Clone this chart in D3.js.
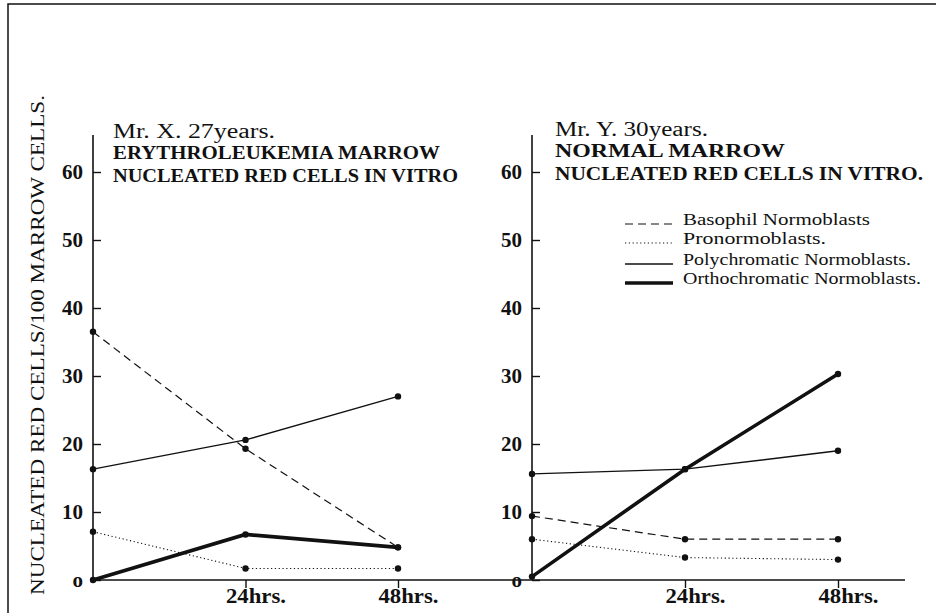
<!DOCTYPE html>
<html>
<head>
<meta charset="utf-8">
<script src="https://cdn.jsdelivr.net/npm/d3@7"></script>
<style>
  body { margin: 0; background: #fff; }
  svg { display: block; }
  text { font-family: "Liberation Serif", "DejaVu Serif", serif; fill: #111; }
</style>
</head>
<body>
<figure id="chart" style="margin:0"></figure>
<script>
const hours = [0, 24, 48];
const yTicks = [0, 10, 20, 30, 40, 50, 60];
const seriesNames = ["Basophil Normoblasts", "Pronormoblasts.", "Polychromatic Normoblasts.", "Orthochromatic Normoblasts."];

// Mr. X - erythroleukemia marrow
const basophilX = [36.5, 19.3, 4.8];
const pronormoX = [7.1, 1.7, 1.7];
const polyX = [16.3, 20.6, 27.0];
const orthoX = [0, 6.7, 4.8];

// Mr. Y - normal marrow
const basophilY = [9.4, 6.0, 6.0];
const pronormoY = [6.0, 3.3, 3.0];
const polyY = [15.6, 16.3, 19.0];
const orthoY = [0.5, 16.3, 30.3];

const titlesX = ["Mr. X.  27years.", "ERYTHROLEUKEMIA MARROW", "NUCLEATED RED CELLS IN VITRO"];
const titlesY = ["Mr. Y.  30years.", "NORMAL MARROW", "NUCLEATED RED CELLS IN VITRO."];
const yLabel = "NUCLEATED RED CELLS/100 MARROW CELLS.";

const width = 936, height = 613;
const lineStyles = [
  { w: 1.2, dash: "8,5" },
  { w: 1.1, dash: "1.2,2.6" },
  { w: 1.4, dash: null },
  { w: 3.6, dash: null }
];

const svg = d3.select("figure#chart")
  .append("svg")
  .attr("width", width)
  .attr("height", height);

// frame (only top + left edges visible in the scan)
svg.append("path")
  .attr("d", "M8,613 L8,4 L936,4")
  .attr("fill", "none").attr("stroke", "#111").attr("stroke-width", 1.5);

const y = d3.scaleLinear().domain([0, 60]).range([580, 172]);

// continuous baseline across both panels
svg.append("line")
  .attr("x1", 93).attr("x2", 905)
  .attr("y1", y(0)).attr("y2", y(0))
  .attr("stroke", "#111").attr("stroke-width", 1.6);

function drawPanel(x0, x48, series, titles, titleWidths, titleY) {
  const x = d3.scaleLinear().domain([0, 48]).range([x0, x48]);

  // y axis
  svg.append("line")
    .attr("x1", x0).attr("x2", x0)
    .attr("y1", y(0)).attr("y2", 135)
    .attr("stroke", "#111").attr("stroke-width", 1.6);

  const ya = svg.append("g")
    .attr("transform", "translate(" + x0 + ",0)")
    .call(d3.axisLeft(y).tickValues(yTicks).tickSize(-8).tickPadding(10));
  ya.select(".domain").remove();
  ya.selectAll("line").attr("stroke", "#111").attr("stroke-width", 1.4);
  ya.selectAll("text")
    .attr("font-size", 21).attr("font-weight", "bold")
    .attr("font-family", "'Liberation Serif', serif").attr("fill", "#111")
    .text(d => d === 0 ? "o" : d);

  // x axis ticks + labels
  const xa = svg.append("g")
    .attr("transform", "translate(0," + y(0) + ")")
    .call(d3.axisBottom(x).tickValues(hours.slice(1)).tickSize(8).tickFormat(d => d + "hrs."));
  xa.select(".domain").remove();
  xa.selectAll("line").attr("stroke", "#111").attr("stroke-width", 1.4);
  xa.selectAll("text")
    .attr("text-anchor", "start")
    .attr("x", -20).attr("y", 23).attr("dy", 0)
    .attr("font-size", 21).attr("font-weight", "bold")
    .attr("font-family", "'Liberation Serif', serif").attr("fill", "#111")
    .attr("textLength", 60).attr("lengthAdjust", "spacingAndGlyphs");

  const line = d3.line().x((d, i) => x(hours[i])).y(d => y(d));

  series.forEach((vals, k) => {
    const s = lineStyles[k];
    svg.append("path")
      .datum(vals)
      .attr("d", line)
      .attr("fill", "none")
      .attr("stroke", "#111")
      .attr("stroke-width", s.w)
      .attr("stroke-dasharray", s.dash);
    svg.selectAll(null)
      .data(vals)
      .enter()
      .append("circle")
      .attr("cx", (d, i) => x(hours[i]))
      .attr("cy", d => y(d))
      .attr("r", 3.2)
      .attr("fill", "#111");
  });

  titles.forEach((t, i) => {
    svg.append("text")
      .attr("x", titleY.x)
      .attr("y", titleY.base[i])
      .attr("font-size", i === 0 ? 20 : 19)
      .attr("font-weight", i === 0 ? "normal" : "bold")
      .attr("textLength", titleWidths[i])
      .attr("lengthAdjust", "spacingAndGlyphs")
      .text(t);
  });
}

drawPanel(93, 398, [basophilX, pronormoX, polyX, orthoX], titlesX,
  [162, 327, 345], { x: 113, base: [138, 159, 182] });
drawPanel(532, 838, [basophilY, pronormoY, polyY, orthoY], titlesY,
  [153, 230, 368], { x: 555, base: [136, 157, 180] });

// legend (right panel)
const legendBase = [225, 244, 265, 284];
const legendWidths = [187, 143, 228, 238];
seriesNames.forEach((name, i) => {
  const s = lineStyles[i];
  svg.append("line")
    .attr("x1", 625).attr("x2", 673)
    .attr("y1", legendBase[i] - 1).attr("y2", legendBase[i] - 1)
    .attr("stroke", "#111")
    .attr("stroke-width", s.w)
    .attr("stroke-dasharray", s.dash);
  svg.append("text")
    .attr("x", 683)
    .attr("y", legendBase[i])
    .attr("font-size", 17)
    .attr("textLength", legendWidths[i])
    .attr("lengthAdjust", "spacingAndGlyphs")
    .text(name);
});

// y axis title
svg.append("text")
  .attr("transform", "translate(44,345) rotate(-90)")
  .attr("text-anchor", "middle")
  .attr("font-size", 19)
  .attr("textLength", 500)
  .attr("lengthAdjust", "spacingAndGlyphs")
  .text(yLabel);
</script>
</body>
</html>
